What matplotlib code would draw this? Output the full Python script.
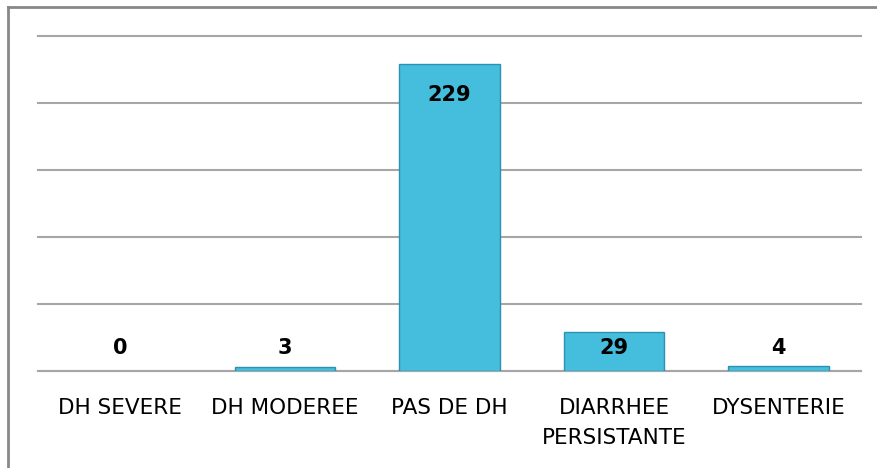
import matplotlib.pyplot as plt
from matplotlib.lines import Line2D

# donnees
categories = ['DH SEVERE', 'DH MODEREE', 'PAS DE DH', 'DIARRHEE\nPERSISTANTE', 'DYSENTERIE']
valeurs = [0, 3, 229, 29, 4]

plt.rcParams['font.family'] = ['Liberation Sans Narrow', 'DejaVu Sans']

fig = plt.figure(figsize=(8.77, 4.68), dpi=100)
ax = fig.add_axes([38 / 877, 1 - 371 / 468, (861 - 38) / 877, (371 - 36) / 468])

x = range(len(categories))
bars = ax.bar(x, valeurs, width=0.61, color='#45bddd', edgecolor='#2b93b1', linewidth=1.0, zorder=3)
for b, v in zip(bars, valeurs):
    if v == 0:
        b.set_visible(False)

for xi, v in zip(x, valeurs):
    ax.annotate(str(v), xy=(xi, max(v, 40)), xytext=(0, -22), textcoords='offset points',
                ha='center', va='center', fontsize=15, fontweight='bold', color='black', zorder=4)

ax.set_ylim(0, 250)
ax.set_xlim(-0.5, len(categories) - 0.5)
ax.set_yticks(range(0, 251, 50))
ax.yaxis.grid(True, color='#a6a6a6', linewidth=1.5)
for gl in ax.get_ygridlines():
    gl.set_clip_on(False)
ax.set_axisbelow(True)
ax.tick_params(axis='y', left=False, labelleft=False)
ax.tick_params(axis='x', bottom=False, pad=16, labelsize=15.5)
ax.set_xticks(list(x))
ax.set_xticklabels(categories, linespacing=1.6)
for lab in ax.get_xticklabels():
    lab.set_verticalalignment('top')
for s in ['top', 'right', 'left']:
    ax.spines[s].set_visible(False)
ax.spines['bottom'].set_color('#a6a6a6')
ax.spines['bottom'].set_linewidth(1.5)

# cadre gris
fig.add_artist(Line2D([8 / 877, 8 / 877], [0, 1 - 7 / 468], color='#888888', linewidth=2))
fig.add_artist(Line2D([8 / 877, 1], [1 - 7 / 468, 1 - 7 / 468], color='#888888', linewidth=2))

fig.savefig('out.png', dpi=100)
